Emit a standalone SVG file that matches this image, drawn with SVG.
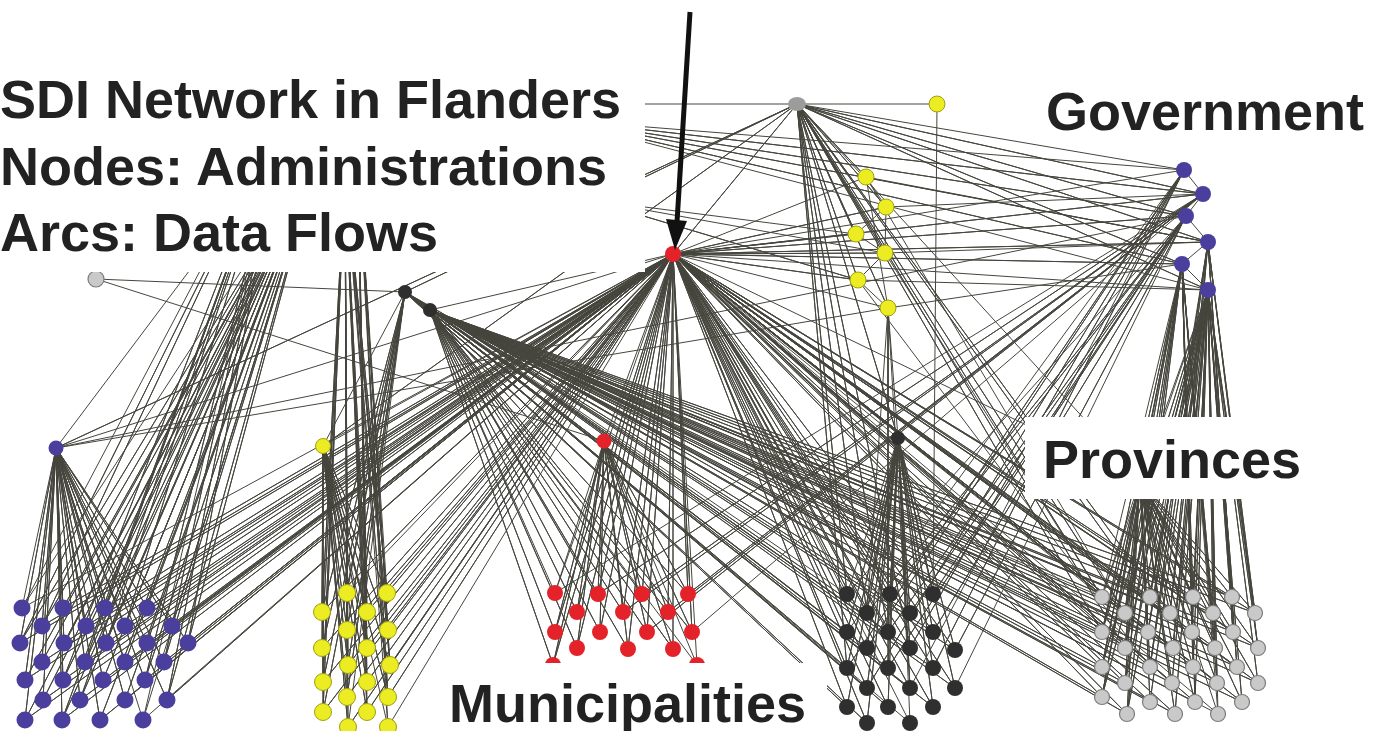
<svg xmlns="http://www.w3.org/2000/svg" width="1389" height="731" viewBox="0 0 1389 731">
<style>
.e{fill:none;stroke:#46463e;stroke-width:1;stroke-linejoin:round}
.b{fill:#4a3f9c}
.y{fill:#ecec22;stroke:#a0a012;stroke-width:1}
.r{fill:#e4222a}
.d{fill:#2f2f2f}
.g{fill:#c9c9c9;stroke:#7c7c7c;stroke-width:1.2}
.gt{fill:#9c9c9c}
.box{fill:#fff}
.t{font-family:"Liberation Sans",Arial,sans-serif;font-weight:bold;font-size:54px;fill:#222}
</style>
<rect width="1389" height="731" fill="#fff"/>
<g id="connectors" class="e">
<path d="M22 608L56 448 63 608 56 448 105 608 56 448 147 608 56 448 42 626 56 448 86 626 56 448 125 626 56 448 172 626 56 448 20 643 56 448 64 643 56 448 106 643 56 448 147 643 56 448 188 643 56 448 42 662 56 448 85 662 56 448 125 662 56 448 164 662 56 448 25 680 56 448 63 680 56 448 103 680 56 448 145 680 56 448 43 700 56 448 80 700 56 448 125 700 56 448 167 700 56 448 25 720 56 448 62 720 56 448 100 720 56 448 143 720"/>
<path d="M22 608L320 150 63 608 320 150 105 608 320 150 147 608 320 150 42 626 320 150 86 626 320 150 125 626 320 150 172 626 320 150 20 643 320 150 64 643 320 150 106 643 320 150 147 643 320 150 188 643 320 150 42 662 320 150 85 662 320 150 125 662 320 150 164 662 320 150 25 680 320 150 63 680 320 150 103 680 320 150 145 680 320 150 43 700 320 150 80 700 320 150 125 700 320 150 167 700 320 150 25 720 320 150 62 720 320 150 100 720 320 150 143 720"/>
<path d="M22 608L285 110 105 608 285 110 42 626 285 110 125 626 285 110 20 643 285 110 106 643 285 110 188 643 285 110 85 662 285 110 164 662 285 110 63 680 285 110 145 680 285 110 80 700 285 110 167 700 285 110 62 720 285 110 143 720"/>
<path d="M347 593L323 446 387 593 323 446 322 612 323 446 367 612 323 446 347 630 323 446 388 630 323 446 322 648 323 446 367 648 323 446 348 665 323 446 390 665 323 446 323 682 323 446 367 682 323 446 347 697 323 446 388 697 323 446 323 712 323 446 367 712 323 446 348 727 323 446 388 727"/>
<path d="M347 593L345 170 387 593 345 170 322 612 345 170 367 612 345 170 347 630 345 170 388 630 345 170 322 648 345 170 367 648 345 170 348 665 345 170 390 665 345 170 323 682 345 170 367 682 345 170 347 697 345 170 388 697 345 170 323 712 345 170 367 712 345 170 348 727 345 170 388 727"/>
<path d="M387 593L358 160 367 612 358 160 388 630 358 160 367 648 358 160 390 665 358 160 367 682 358 160 388 697 358 160 367 712 358 160 388 727"/>
<path d="M347 593L405 292 322 612 405 292 347 630 405 292 322 648 405 292 348 665 405 292 323 682 405 292 347 697 405 292 323 712 405 292 348 727"/>
<path d="M555 593L604 441 598 594 604 441 642 594 604 441 688 594 604 441 577 612 604 441 623 612 604 441 668 612 604 441 555 632 604 441 600 632 604 441 647 632 604 441 692 632 604 441 577 648 604 441 628 649 604 441 673 649 604 441 553 665 604 441 697 665"/>
<path d="M847 594L898 438 890 594 898 438 933 594 898 438 867 613 898 438 910 613 898 438 847 632 898 438 888 632 898 438 933 632 898 438 867 648 898 438 910 648 898 438 955 650 898 438 847 668 898 438 888 668 898 438 933 668 898 438 867 688 898 438 910 688 898 438 955 688 898 438 847 707 898 438 888 707 898 438 933 707 898 438 867 723 898 438 910 723"/>
<path d="M1102 597L1140 480 1150 597 1140 480 1193 597 1140 480 1232 597 1140 480 1125 613 1140 480 1170 613 1140 480 1213 613 1140 480 1255 613 1140 480 1102 632 1140 480 1148 632 1140 480 1192 632 1140 480 1233 632 1140 480 1125 648 1140 480 1173 648 1140 480 1215 648 1140 480 1258 648 1140 480 1102 667 1140 480 1150 667 1140 480 1193 667 1140 480 1237 667 1140 480 1125 683 1140 480 1172 683 1140 480 1217 683 1140 480 1258 683 1140 480 1102 697 1140 480 1150 702 1140 480 1195 702 1140 480 1242 702 1140 480 1127 714 1140 480 1175 714 1140 480 1218 714"/>
<path d="M22 608L673 254 63 608 673 254 105 608 673 254 147 608 673 254 42 626 673 254 86 626 673 254 125 626 673 254 172 626 673 254 20 643 673 254 64 643 673 254 106 643 673 254 147 643 673 254 188 643 673 254 42 662 673 254 85 662 673 254 125 662 673 254 164 662 673 254 25 680 673 254 63 680 673 254 103 680 673 254 145 680 673 254 43 700 673 254 80 700 673 254 125 700 673 254 167 700 673 254 25 720 673 254 62 720 673 254 100 720 673 254 143 720"/>
<path d="M347 593L673 254 387 593 673 254 322 612 673 254 367 612 673 254 347 630 673 254 388 630 673 254 322 648 673 254 367 648 673 254 348 665 673 254 390 665 673 254 323 682 673 254 367 682 673 254 347 697 673 254 388 697 673 254 323 712 673 254 367 712 673 254 348 727 673 254 388 727"/>
<path d="M555 593L673 254 598 594 673 254 642 594 673 254 688 594 673 254 577 612 673 254 623 612 673 254 668 612 673 254 555 632 673 254 600 632 673 254 647 632 673 254 692 632 673 254 577 648 673 254 628 649 673 254 673 649 673 254 553 665 673 254 697 665"/>
<path d="M847 594L673 254 890 594 673 254 933 594 673 254 867 613 673 254 910 613 673 254 847 632 673 254 888 632 673 254 933 632 673 254 867 648 673 254 910 648 673 254 955 650 673 254 847 668 673 254 888 668 673 254 933 668 673 254 867 688 673 254 910 688 673 254 955 688 673 254 847 707 673 254 888 707 673 254 933 707 673 254 867 723 673 254 910 723"/>
<path d="M1102 597L673 254 1150 597 673 254 1193 597 673 254 1232 597 673 254 1125 613 673 254 1170 613 673 254 1213 613 673 254 1255 613 673 254 1102 632 673 254 1148 632 673 254 1192 632 673 254 1233 632 673 254 1125 648 673 254 1173 648 673 254 1215 648 673 254 1258 648 673 254 1102 667 673 254 1150 667 673 254 1193 667 673 254 1237 667 673 254 1125 683 673 254 1172 683 673 254 1217 683 673 254 1258 683 673 254 1102 697 673 254 1150 702 673 254 1195 702 673 254 1242 702 673 254 1127 714 673 254 1175 714 673 254 1218 714"/>
<path d="M847 594L405 292 890 594 405 292 933 594 405 292 867 613 405 292 910 613 405 292 847 632 405 292 888 632 405 292 933 632 405 292 867 648 405 292 910 648 405 292 955 650 405 292 847 668 405 292 888 668 405 292 933 668 405 292 867 688 405 292 910 688 405 292 955 688 405 292 847 707 405 292 888 707 405 292 933 707 405 292 867 723 405 292 910 723"/>
<path d="M1102 597L430 310 1150 597 430 310 1193 597 430 310 1232 597 430 310 1125 613 430 310 1170 613 430 310 1213 613 430 310 1255 613 430 310 1102 632 430 310 1148 632 430 310 1192 632 430 310 1233 632 430 310 1125 648 430 310 1173 648 430 310 1215 648 430 310 1258 648 430 310 1102 667 430 310 1150 667 430 310 1193 667 430 310 1237 667 430 310 1125 683 430 310 1172 683 430 310 1217 683 430 310 1258 683 430 310 1102 697 430 310 1150 702 430 310 1195 702 430 310 1242 702 430 310 1127 714 430 310 1175 714 430 310 1218 714"/>
<path d="M555 593L430 310 598 594 430 310 642 594 430 310 688 594 430 310 577 612 430 310 623 612 430 310 668 612 430 310 555 632 430 310 600 632 430 310 647 632 430 310 692 632 430 310 577 648 430 310 628 649 430 310 673 649 430 310 553 665 430 310 697 665"/>
<path d="M645 104L937 104"/>
<path d="M1184 170L797 104 1203 194 797 104 1186 216 797 104 1208 242 797 104 1182 264 797 104 1208 290 797 104 866 177 797 104 886 207 797 104 856 234 797 104 885 253 797 104 858 280 797 104 888 308 797 104 673 254 797 104 405 292 797 104 323 446 797 104 56 448 797 104 847 594 797 104 867 613 797 104 888 632 797 104 847 668 797 104 910 648 797 104 1102 597 797 104 1150 597 797 104 1125 613 797 104 1102 632 797 104 1170 613 797 104 1125 648 797 104 898 438 797 104 1140 480"/>
<path d="M1184 170L560 120 1203 194 560 120 1186 216 560 120 1208 242 560 120 1182 264 560 120 1208 290"/>
<path d="M856 234L590 200 858 280 590 200 885 253"/>
<path d="M1184 170L673 254 1203 194 673 254 1186 216 673 254 1208 242 673 254 1182 264 673 254 1208 290"/>
<path d="M1102 597L1208 290 1150 597 1208 290 1193 597 1208 290 1232 597 1208 290 1125 613 1208 290 1170 613 1208 290 1213 613 1208 290 1255 613 1208 290 1102 632 1208 290 1148 632 1208 290 1192 632 1208 290 1233 632 1208 290 1125 648 1208 290 1173 648 1208 290 1215 648 1208 290 1258 648 1208 290 1102 667 1208 290 1150 667 1208 290 1193 667 1208 290 1237 667 1208 290 1125 683 1208 290 1172 683 1208 290 1217 683 1208 290 1258 683 1208 290 1102 697 1208 290 1150 702 1208 290 1195 702 1208 290 1242 702 1208 290 1127 714 1208 290 1175 714 1208 290 1218 714"/>
<path d="M1102 597L1182 264 1193 597 1182 264 1125 613 1182 264 1213 613 1182 264 1102 632 1182 264 1192 632 1182 264 1125 648 1182 264 1215 648 1182 264 1102 667 1182 264 1193 667 1182 264 1125 683 1182 264 1217 683 1182 264 1102 697 1182 264 1195 702 1182 264 1127 714 1182 264 1218 714"/>
<path d="M1150 597L1208 242 1232 597 1208 242 1170 613 1208 242 1255 613 1208 242 1148 632 1208 242 1233 632 1208 242 1173 648 1208 242 1258 648 1208 242 1150 667 1208 242 1237 667"/>
<path d="M847 594L1186 216 890 594 1186 216 933 594 1186 216 867 613 1186 216 910 613 1186 216 888 632 1186 216 933 632 1186 216 955 650 1186 216 888 668 1186 216 955 688"/>
<path d="M555 593L1203 194 598 594 1203 194 642 594 1203 194 688 594 1203 194 623 612 1203 194 668 612 1203 194 647 632 1203 194 692 632"/>
<path d="M847 632L1184 170 867 648 1184 170 910 648 1184 170 847 668 1184 170 933 668 1184 170 867 688 1184 170 910 688"/>
<path d="M1184 170L1203 194 1186 216 1208 242 1182 264 1208 290"/>
<path d="M1203 194L886 207M1208 242L885 253M1208 242L866 177M1182 264L888 308M1208 290L858 280"/>
<path d="M866 177L886 207 856 234 885 253 858 280 888 308 898 438M866 177L888 308M886 207L885 253"/>
<path d="M866 177L673 254 886 207 673 254 856 234 673 254 885 253 673 254 858 280 673 254 888 308"/>
<path d="M867 613L888 308 888 632 888 308 888 668 888 308 910 688"/>
<path d="M937 104L933 594M885 253L1102 597M858 280L1150 667M866 177L1125 613"/>
<path d="M250 190L56 448 673 254M56 448L888 308M56 448L1186 216M405 292L323 446 673 254M604 441L673 254 898 438M1140 480L673 254M1140 480L1208 290M1140 480L1182 264M96 279L405 292M96 279L604 441M430 310L673 254"/>
</g>
<g id="n-grayleft"><circle class="g" cx="96" cy="279" r="8"/></g>
<g id="n-dark1"><circle class="d" cx="405" cy="292" r="7"/></g>
<g id="n-dark2"><circle class="d" cx="430" cy="310" r="7"/></g>
<g id="n-redhub"><circle class="r" cx="673" cy="254" r="8"/></g>
<g id="n-graytop"><ellipse class="gt" cx="797" cy="104" rx="9" ry="7"/></g>
<g id="n-yellowtop"><circle class="y" cx="937" cy="104" r="8"/></g>
<g id="n-y1"><circle class="y" cx="866" cy="177" r="8"/></g>
<g id="n-y2"><circle class="y" cx="886" cy="207" r="8"/></g>
<g id="n-y3"><circle class="y" cx="856" cy="234" r="8"/></g>
<g id="n-y4"><circle class="y" cx="885" cy="253" r="8"/></g>
<g id="n-y5"><circle class="y" cx="858" cy="280" r="8"/></g>
<g id="n-y6"><circle class="y" cx="888" cy="308" r="8"/></g>
<g id="n-gov1"><circle class="b" cx="1184" cy="170" r="8"/></g>
<g id="n-gov2"><circle class="b" cx="1203" cy="194" r="8"/></g>
<g id="n-gov3"><circle class="b" cx="1186" cy="216" r="8"/></g>
<g id="n-gov4"><circle class="b" cx="1208" cy="242" r="8"/></g>
<g id="n-gov5"><circle class="b" cx="1182" cy="264" r="8"/></g>
<g id="n-gov6"><circle class="b" cx="1208" cy="290" r="8"/></g>
<g id="p-blue"><circle class="b" cx="56" cy="448" r="7.5"/></g>
<g id="p-yellow"><circle class="y" cx="323" cy="446" r="7.5"/></g>
<g id="p-red"><circle class="r" cx="604" cy="441" r="7.5"/></g>
<g id="p-dark"><circle class="d" cx="898" cy="438" r="7"/></g>
<g id="mb1"><circle class="b" cx="22" cy="608" r="8.5"/></g>
<g id="mb2"><circle class="b" cx="63" cy="608" r="8.5"/></g>
<g id="mb3"><circle class="b" cx="105" cy="608" r="8.5"/></g>
<g id="mb4"><circle class="b" cx="147" cy="608" r="8.5"/></g>
<g id="mb5"><circle class="b" cx="42" cy="626" r="8.5"/></g>
<g id="mb6"><circle class="b" cx="86" cy="626" r="8.5"/></g>
<g id="mb7"><circle class="b" cx="125" cy="626" r="8.5"/></g>
<g id="mb8"><circle class="b" cx="172" cy="626" r="8.5"/></g>
<g id="mb9"><circle class="b" cx="20" cy="643" r="8.5"/></g>
<g id="mb10"><circle class="b" cx="64" cy="643" r="8.5"/></g>
<g id="mb11"><circle class="b" cx="106" cy="643" r="8.5"/></g>
<g id="mb12"><circle class="b" cx="147" cy="643" r="8.5"/></g>
<g id="mb13"><circle class="b" cx="188" cy="643" r="8.5"/></g>
<g id="mb14"><circle class="b" cx="42" cy="662" r="8.5"/></g>
<g id="mb15"><circle class="b" cx="85" cy="662" r="8.5"/></g>
<g id="mb16"><circle class="b" cx="125" cy="662" r="8.5"/></g>
<g id="mb17"><circle class="b" cx="164" cy="662" r="8.5"/></g>
<g id="mb18"><circle class="b" cx="25" cy="680" r="8.5"/></g>
<g id="mb19"><circle class="b" cx="63" cy="680" r="8.5"/></g>
<g id="mb20"><circle class="b" cx="103" cy="680" r="8.5"/></g>
<g id="mb21"><circle class="b" cx="145" cy="680" r="8.5"/></g>
<g id="mb22"><circle class="b" cx="43" cy="700" r="8.5"/></g>
<g id="mb23"><circle class="b" cx="80" cy="700" r="8.5"/></g>
<g id="mb24"><circle class="b" cx="125" cy="700" r="8.5"/></g>
<g id="mb25"><circle class="b" cx="167" cy="700" r="8.5"/></g>
<g id="mb26"><circle class="b" cx="25" cy="720" r="8.5"/></g>
<g id="mb27"><circle class="b" cx="62" cy="720" r="8.5"/></g>
<g id="mb28"><circle class="b" cx="100" cy="720" r="8.5"/></g>
<g id="mb29"><circle class="b" cx="143" cy="720" r="8.5"/></g>
<g id="my1"><circle class="y" cx="347" cy="593" r="8.5"/></g>
<g id="my2"><circle class="y" cx="387" cy="593" r="8.5"/></g>
<g id="my3"><circle class="y" cx="322" cy="612" r="8.5"/></g>
<g id="my4"><circle class="y" cx="367" cy="612" r="8.5"/></g>
<g id="my5"><circle class="y" cx="347" cy="630" r="8.5"/></g>
<g id="my6"><circle class="y" cx="388" cy="630" r="8.5"/></g>
<g id="my7"><circle class="y" cx="322" cy="648" r="8.5"/></g>
<g id="my8"><circle class="y" cx="367" cy="648" r="8.5"/></g>
<g id="my9"><circle class="y" cx="348" cy="665" r="8.5"/></g>
<g id="my10"><circle class="y" cx="390" cy="665" r="8.5"/></g>
<g id="my11"><circle class="y" cx="323" cy="682" r="8.5"/></g>
<g id="my12"><circle class="y" cx="367" cy="682" r="8.5"/></g>
<g id="my13"><circle class="y" cx="347" cy="697" r="8.5"/></g>
<g id="my14"><circle class="y" cx="388" cy="697" r="8.5"/></g>
<g id="my15"><circle class="y" cx="323" cy="712" r="8.5"/></g>
<g id="my16"><circle class="y" cx="367" cy="712" r="8.5"/></g>
<g id="my17"><circle class="y" cx="348" cy="727" r="8.5"/></g>
<g id="my18"><circle class="y" cx="388" cy="727" r="8.5"/></g>
<g id="mr1"><circle class="r" cx="555" cy="593" r="8"/></g>
<g id="mr2"><circle class="r" cx="598" cy="594" r="8"/></g>
<g id="mr3"><circle class="r" cx="642" cy="594" r="8"/></g>
<g id="mr4"><circle class="r" cx="688" cy="594" r="8"/></g>
<g id="mr5"><circle class="r" cx="577" cy="612" r="8"/></g>
<g id="mr6"><circle class="r" cx="623" cy="612" r="8"/></g>
<g id="mr7"><circle class="r" cx="668" cy="612" r="8"/></g>
<g id="mr8"><circle class="r" cx="555" cy="632" r="8"/></g>
<g id="mr9"><circle class="r" cx="600" cy="632" r="8"/></g>
<g id="mr10"><circle class="r" cx="647" cy="632" r="8"/></g>
<g id="mr11"><circle class="r" cx="692" cy="632" r="8"/></g>
<g id="mr12"><circle class="r" cx="577" cy="648" r="8"/></g>
<g id="mr13"><circle class="r" cx="628" cy="649" r="8"/></g>
<g id="mr14"><circle class="r" cx="673" cy="649" r="8"/></g>
<g id="mr15"><circle class="r" cx="553" cy="665" r="8"/></g>
<g id="mr16"><circle class="r" cx="697" cy="665" r="8"/></g>
<g id="md1"><circle class="d" cx="847" cy="594" r="8"/></g>
<g id="md2"><circle class="d" cx="890" cy="594" r="8"/></g>
<g id="md3"><circle class="d" cx="933" cy="594" r="8"/></g>
<g id="md4"><circle class="d" cx="867" cy="613" r="8"/></g>
<g id="md5"><circle class="d" cx="910" cy="613" r="8"/></g>
<g id="md6"><circle class="d" cx="847" cy="632" r="8"/></g>
<g id="md7"><circle class="d" cx="888" cy="632" r="8"/></g>
<g id="md8"><circle class="d" cx="933" cy="632" r="8"/></g>
<g id="md9"><circle class="d" cx="867" cy="648" r="8"/></g>
<g id="md10"><circle class="d" cx="910" cy="648" r="8"/></g>
<g id="md11"><circle class="d" cx="955" cy="650" r="8"/></g>
<g id="md12"><circle class="d" cx="847" cy="668" r="8"/></g>
<g id="md13"><circle class="d" cx="888" cy="668" r="8"/></g>
<g id="md14"><circle class="d" cx="933" cy="668" r="8"/></g>
<g id="md15"><circle class="d" cx="867" cy="688" r="8"/></g>
<g id="md16"><circle class="d" cx="910" cy="688" r="8"/></g>
<g id="md17"><circle class="d" cx="955" cy="688" r="8"/></g>
<g id="md18"><circle class="d" cx="847" cy="707" r="8"/></g>
<g id="md19"><circle class="d" cx="888" cy="707" r="8"/></g>
<g id="md20"><circle class="d" cx="933" cy="707" r="8"/></g>
<g id="md21"><circle class="d" cx="867" cy="723" r="8"/></g>
<g id="md22"><circle class="d" cx="910" cy="723" r="8"/></g>
<g id="mg1"><circle class="g" cx="1102" cy="597" r="7.5"/></g>
<g id="mg2"><circle class="g" cx="1150" cy="597" r="7.5"/></g>
<g id="mg3"><circle class="g" cx="1193" cy="597" r="7.5"/></g>
<g id="mg4"><circle class="g" cx="1232" cy="597" r="7.5"/></g>
<g id="mg5"><circle class="g" cx="1125" cy="613" r="7.5"/></g>
<g id="mg6"><circle class="g" cx="1170" cy="613" r="7.5"/></g>
<g id="mg7"><circle class="g" cx="1213" cy="613" r="7.5"/></g>
<g id="mg8"><circle class="g" cx="1255" cy="613" r="7.5"/></g>
<g id="mg9"><circle class="g" cx="1102" cy="632" r="7.5"/></g>
<g id="mg10"><circle class="g" cx="1148" cy="632" r="7.5"/></g>
<g id="mg11"><circle class="g" cx="1192" cy="632" r="7.5"/></g>
<g id="mg12"><circle class="g" cx="1233" cy="632" r="7.5"/></g>
<g id="mg13"><circle class="g" cx="1125" cy="648" r="7.5"/></g>
<g id="mg14"><circle class="g" cx="1173" cy="648" r="7.5"/></g>
<g id="mg15"><circle class="g" cx="1215" cy="648" r="7.5"/></g>
<g id="mg16"><circle class="g" cx="1258" cy="648" r="7.5"/></g>
<g id="mg17"><circle class="g" cx="1102" cy="667" r="7.5"/></g>
<g id="mg18"><circle class="g" cx="1150" cy="667" r="7.5"/></g>
<g id="mg19"><circle class="g" cx="1193" cy="667" r="7.5"/></g>
<g id="mg20"><circle class="g" cx="1237" cy="667" r="7.5"/></g>
<g id="mg21"><circle class="g" cx="1125" cy="683" r="7.5"/></g>
<g id="mg22"><circle class="g" cx="1172" cy="683" r="7.5"/></g>
<g id="mg23"><circle class="g" cx="1217" cy="683" r="7.5"/></g>
<g id="mg24"><circle class="g" cx="1258" cy="683" r="7.5"/></g>
<g id="mg25"><circle class="g" cx="1102" cy="697" r="7.5"/></g>
<g id="mg26"><circle class="g" cx="1150" cy="702" r="7.5"/></g>
<g id="mg27"><circle class="g" cx="1195" cy="702" r="7.5"/></g>
<g id="mg28"><circle class="g" cx="1242" cy="702" r="7.5"/></g>
<g id="mg29"><circle class="g" cx="1127" cy="714" r="7.5"/></g>
<g id="mg30"><circle class="g" cx="1175" cy="714" r="7.5"/></g>
<g id="mg31"><circle class="g" cx="1218" cy="714" r="7.5"/></g>
<g id="labels">
<rect class="box" x="0" y="40" width="645" height="232"/>
<rect class="box" x="1035" y="82" width="345" height="58"/>
<rect class="box" x="1025" y="417" width="285" height="82"/>
<rect class="box" x="440" y="663" width="387" height="68"/>
<text class="t" x="0" y="118">SDI Network in Flanders</text>
<text class="t" x="0" y="185">Nodes: Administrations</text>
<text class="t" x="0" y="251">Arcs: Data Flows</text>
<text class="t" x="1046" y="130">Government</text>
<text class="t" x="1043" y="478">Provinces</text>
<text class="t" x="449" y="722">Municipalities</text>
</g>
<g id="pointer">
<line x1="690" y1="12" x2="677" y2="222" stroke="#111" stroke-width="5"/>
<polygon points="675,250 666,219 687,221" fill="#111"/>
</g>
</svg>
